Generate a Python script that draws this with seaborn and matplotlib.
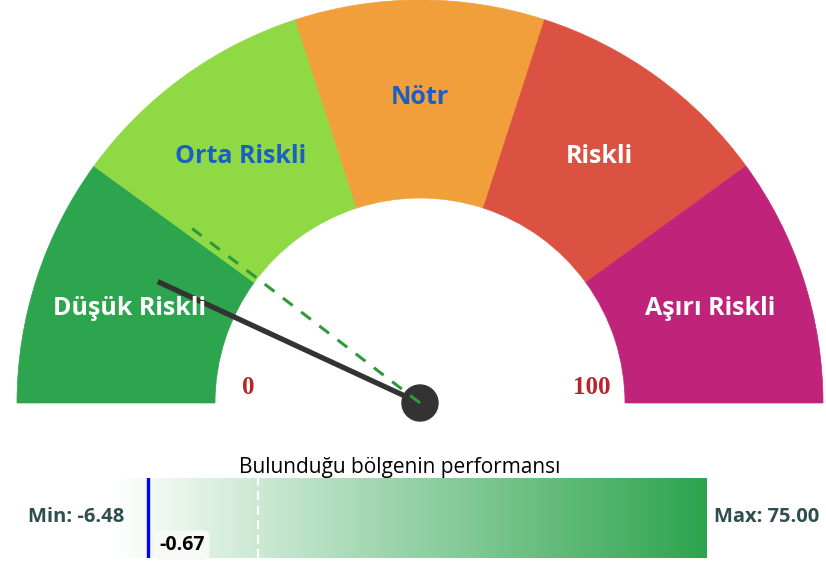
import numpy as np
import pandas as pd
import matplotlib
matplotlib.use("Agg")
import matplotlib.pyplot as plt
from matplotlib.patches import Wedge, Circle
from matplotlib.colors import LinearSegmentedColormap
import seaborn as sns

# ---------------- data ----------------
categories = ["Düşük Riskli", "Orta Riskli", "Nötr", "Riskli", "Aşırı Riskli"]
sector_colors = ["#2da44e", "#8fd945", "#f09f3a", "#db5142", "#c0237a"]
label_colors = ["white", "#1a5fc4", "#1a5fc4", "white", "white"]
gauge_min, gauge_max = 0, 100
needle_value = 13.8
reference_value = 20.8

bar_title = "Bulunduğu bölgenin performansı"
perf_min = -6.48
perf_max = 75.00
perf_current = -0.67
perf_reference = 14.2
bar_range = (-5.4, 75.0)

sns.set_theme(style="white")
plt.rcParams['font.family'] = ['Open Sans', 'DejaVu Sans']

W, H = 826, 562
fig = plt.figure(figsize=(W / 100, H / 100), dpi=100)

# gauge axes in pixel-like units, centre of gauge at (0,0)
cx, cy = 420, 403
ax = fig.add_axes([0, 0, 1, 1])
ax.set_xlim(-cx, W - cx)
ax.set_ylim(-(H - cy), cy)
ax.set_aspect("equal")
ax.axis("off")

R_out, R_in = 403, 205
n = len(categories)
span = 180 / n
for i, (cat, col, lc) in enumerate(zip(categories, sector_colors, label_colors)):
    t2 = 180 - span * i
    t1 = 180 - span * (i + 1)
    ax.add_patch(Wedge((0, 0), R_out, t1, t2, width=R_out - R_in, facecolor=col,
                       edgecolor=col, lw=0.5))
    mid = np.deg2rad((t1 + t2) / 2)
    rl = 305
    ax.text(rl * np.cos(mid), rl * np.sin(mid), cat, color=lc, fontsize=18,
            fontweight="bold", ha="center", va="center")

ax.text(-172, 15, str(gauge_min), color="#b5262a", fontsize=18, fontweight="bold",
        family="Liberation Serif", ha="center", va="center")
ax.text(172, 15, str(gauge_max), color="#b5262a", fontsize=18, fontweight="bold",
        family="Liberation Serif", ha="center", va="center")

def val_angle(v):
    return np.deg2rad(180 - (v - gauge_min) / (gauge_max - gauge_min) * 180)

a = val_angle(needle_value)
needle = pd.DataFrame({"x": [0, 289 * np.cos(a)], "y": [0, 289 * np.sin(a)]})
sns.lineplot(data=needle, x="x", y="y", ax=ax, color="#333333", lw=3.8,
             sort=False, estimator=None, solid_capstyle="butt")
ax.add_patch(Circle((0, 0), 18, facecolor="#333333", edgecolor="#333333", zorder=5))
b = val_angle(reference_value)
ref = pd.DataFrame({"x": [0, 287 * np.cos(b)], "y": [0, 287 * np.sin(b)]})
sns.lineplot(data=ref, x="x", y="y", ax=ax, color="#2e9a3a", lw=2.2,
             sort=False, estimator=None, dashes=False, zorder=6)
ax.lines[-1].set_dashes([4, 3.5])
ax.set_xlabel("")
ax.set_ylabel("")

# ---------------- performance bar ----------------
bx0, bx1, by0, by1 = 113, 707, 478, 558
bax = fig.add_axes([bx0 / W, (H - by1) / H, (bx1 - bx0) / W, (by1 - by0) / H])
cmap = LinearSegmentedColormap.from_list("wg", ["#ffffff", "#2da44e"])
grad = np.linspace(0, 1, 512).reshape(1, -1)
bax.imshow(grad, cmap=cmap, aspect="auto", extent=[bar_range[0], bar_range[1], 0, 1])
bax.set_xlim(*bar_range)
bax.set_ylim(0, 1)
bax.axis("off")
bax.axvline(perf_current, color="#0000ff", lw=2.4)
bax.axvline(perf_reference, color="white", lw=1.6, ls=(0, (4, 2.5)))
bax.text(perf_current + 1.5, 0.16, f"{perf_current:.2f}", fontsize=14,
         fontweight="bold", color="black", ha="left", va="center",
         bbox=dict(boxstyle="round,pad=0.25,rounding_size=0.3", fc="#f6f9f6", ec="none"))

fig.text(400 / W, 1 - 467 / H, bar_title, fontsize=15, color="black",
         ha="center", va="center")
fig.text(76 / W, 1 - 517 / H, f"Min: {perf_min:.2f}", fontsize=14.5, fontweight="bold",
         color="#2f4f4f", ha="center", va="center")
fig.text(767 / W, 1 - 517 / H, f"Max: {perf_max:.2f}", fontsize=14.5, fontweight="bold",
         color="#2f4f4f", ha="center", va="center")

fig.savefig("out.png", dpi=100)
